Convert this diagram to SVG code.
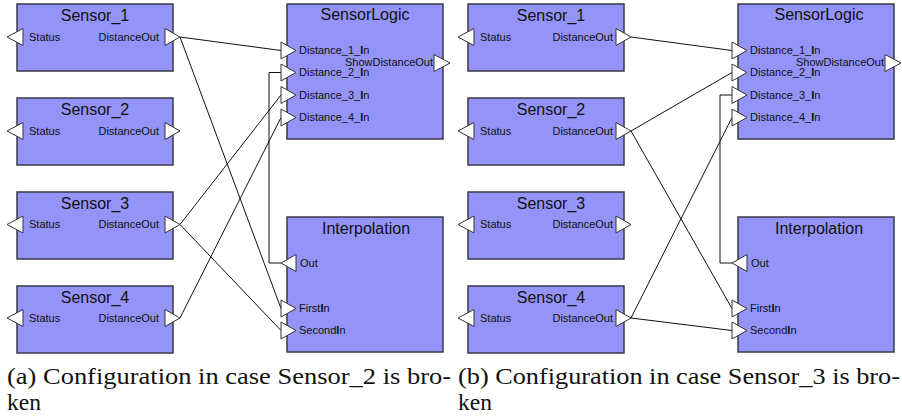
<svg xmlns="http://www.w3.org/2000/svg" width="902" height="418" viewBox="0 0 902 418">
<style>
.box{fill:#9494f8;stroke:#3a3a48;stroke-width:1.5}
.port{fill:#fff;stroke:#333;stroke-width:1}
.title{font-family:"Liberation Sans",Arial,sans-serif;font-size:16px;text-anchor:middle;fill:#111}
.lbl{font-family:"Liberation Sans",Arial,sans-serif;font-size:11px;fill:#111}
.end{text-anchor:end}
.wire{fill:none;stroke:#111;stroke-width:1}
.cap{font-family:"Liberation Serif","Times New Roman",serif;font-size:23.5px;fill:#111}
</style>
<rect width="902" height="418" fill="#fff"/>

<!-- Panel (a) -->
<g id="a-connectors">
<path class="wire" d="M180,37 L281,50.5"/>
<path class="wire" d="M180,37 L281,308.5"/>
<path class="wire" d="M180,224.5 L281,95"/>
<path class="wire" d="M180,318 L281,117.5"/>
<path class="wire" d="M180,224.5 L281,330.5"/>
<path class="wire" d="M281,263 H269 V72.5 H281"/>
</g>
<g id="a-sensor1">
<rect class="box" x="17" y="4" width="156" height="67"/>
<text class="title" x="95" y="20.5">Sensor_1</text>
<polygon class="port" points="7,37 23,28.5 23,45.5"/>
<text class="lbl" x="29" y="40.5">Status</text>
<polygon class="port" points="165,28.5 165,45.5 180,37"/>
<text class="lbl end" x="159" y="40.5">DistanceOut</text>
</g>
<g id="a-sensor2">
<rect class="box" x="17" y="98" width="156" height="67"/>
<text class="title" x="95" y="114.5">Sensor_2</text>
<polygon class="port" points="7,131 23,122.5 23,139.5"/>
<text class="lbl" x="29" y="134.5">Status</text>
<polygon class="port" points="165,122.5 165,139.5 180,131"/>
<text class="lbl end" x="159" y="134.5">DistanceOut</text>
</g>
<g id="a-sensor3">
<rect class="box" x="17" y="192" width="156" height="67"/>
<text class="title" x="95" y="208.5">Sensor_3</text>
<polygon class="port" points="7,224.5 23,216 23,233"/>
<text class="lbl" x="29" y="228">Status</text>
<polygon class="port" points="165,216 165,233 180,224.5"/>
<text class="lbl end" x="159" y="228">DistanceOut</text>
</g>
<g id="a-sensor4">
<rect class="box" x="17" y="286" width="156" height="67"/>
<text class="title" x="95" y="302.5">Sensor_4</text>
<polygon class="port" points="7,318 23,309.5 23,326.5"/>
<text class="lbl" x="29" y="321.5">Status</text>
<polygon class="port" points="165,309.5 165,326.5 180,318"/>
<text class="lbl end" x="159" y="321.5">DistanceOut</text>
</g>
<g id="a-sensorlogic">
<rect class="box" x="287" y="4" width="156" height="135"/>
<text class="title" x="365" y="20">SensorLogic</text>
<polygon class="port" points="281,42 281,59 296,50.5"/>
<text class="lbl" x="299" y="54">Distance_1_<tspan font-weight="bold">I</tspan>n</text>
<polygon class="port" points="281,64 281,81 296,72.5"/>
<text class="lbl" x="299" y="76">Distance_2_<tspan font-weight="bold">I</tspan>n</text>
<polygon class="port" points="281,86.5 281,103.5 296,95"/>
<text class="lbl" x="299" y="98.5">Distance_3_<tspan font-weight="bold">I</tspan>n</text>
<polygon class="port" points="281,109 281,126 296,117.5"/>
<text class="lbl" x="299" y="121">Distance_4_<tspan font-weight="bold">I</tspan>n</text>
<polygon class="port" points="434,54.5 434,71.5 450,63"/>
<text class="lbl end" x="433" y="66">ShowDistanceOut</text>
</g>
<g id="a-interpolation">
<rect class="box" x="287" y="217" width="156" height="135"/>
<text class="title" x="366" y="233.5">Interpolation</text>
<polygon class="port" points="281,263 296,254.5 296,271.5"/>
<text class="lbl" x="300" y="266.5">Out</text>
<polygon class="port" points="281,300 281,317 296,308.5"/>
<text class="lbl" x="299" y="312">First<tspan font-weight="bold">I</tspan>n</text>
<polygon class="port" points="281,322 281,339 296,330.5"/>
<text class="lbl" x="299" y="334">Second<tspan font-weight="bold">I</tspan>n</text>
</g>

<!-- Panel (b) -->
<g id="b-connectors">
<path class="wire" d="M631,37 L732,50.5"/>
<path class="wire" d="M631,131 L732,72.5"/>
<path class="wire" d="M631,131 L732,308.5"/>
<path class="wire" d="M631,318 L732,117.5"/>
<path class="wire" d="M631,318 L732,330.5"/>
<path class="wire" d="M732,263 H720 V95 H732"/>
</g>
<g id="b-sensor1">
<rect class="box" x="468" y="4" width="156" height="67"/>
<text class="title" x="551" y="20.5">Sensor_1</text>
<polygon class="port" points="458,37 474,28.5 474,45.5"/>
<text class="lbl" x="480" y="40.5">Status</text>
<polygon class="port" points="616,28.5 616,45.5 631,37"/>
<text class="lbl end" x="613" y="40.5">DistanceOut</text>
</g>
<g id="b-sensor2">
<rect class="box" x="468" y="98" width="156" height="67"/>
<text class="title" x="551" y="114.5">Sensor_2</text>
<polygon class="port" points="458,131 474,122.5 474,139.5"/>
<text class="lbl" x="480" y="134.5">Status</text>
<polygon class="port" points="616,122.5 616,139.5 631,131"/>
<text class="lbl end" x="613" y="134.5">DistanceOut</text>
</g>
<g id="b-sensor3">
<rect class="box" x="468" y="192" width="156" height="67"/>
<text class="title" x="551" y="208.5">Sensor_3</text>
<polygon class="port" points="458,224.5 474,216 474,233"/>
<text class="lbl" x="480" y="228">Status</text>
<polygon class="port" points="616,216 616,233 631,224.5"/>
<text class="lbl end" x="613" y="228">DistanceOut</text>
</g>
<g id="b-sensor4">
<rect class="box" x="468" y="286" width="156" height="67"/>
<text class="title" x="551" y="302.5">Sensor_4</text>
<polygon class="port" points="458,318 474,309.5 474,326.5"/>
<text class="lbl" x="480" y="321.5">Status</text>
<polygon class="port" points="616,309.5 616,326.5 631,318"/>
<text class="lbl end" x="613" y="321.5">DistanceOut</text>
</g>
<g id="b-sensorlogic">
<rect class="box" x="738" y="4" width="156" height="135"/>
<text class="title" x="819" y="20">SensorLogic</text>
<polygon class="port" points="732,42 732,59 747,50.5"/>
<text class="lbl" x="750" y="54">Distance_1_<tspan font-weight="bold">I</tspan>n</text>
<polygon class="port" points="732,64 732,81 747,72.5"/>
<text class="lbl" x="750" y="76">Distance_2_<tspan font-weight="bold">I</tspan>n</text>
<polygon class="port" points="732,86.5 732,103.5 747,95"/>
<text class="lbl" x="750" y="98.5">Distance_3_<tspan font-weight="bold">I</tspan>n</text>
<polygon class="port" points="732,109 732,126 747,117.5"/>
<text class="lbl" x="750" y="121">Distance_4_<tspan font-weight="bold">I</tspan>n</text>
<polygon class="port" points="885,54.5 885,71.5 901,63"/>
<text class="lbl end" x="884" y="66">ShowDistanceOut</text>
</g>
<g id="b-interpolation">
<rect class="box" x="738" y="217" width="156" height="135"/>
<text class="title" x="819" y="233.5">Interpolation</text>
<polygon class="port" points="732,263 747,254.5 747,271.5"/>
<text class="lbl" x="751" y="266.5">Out</text>
<polygon class="port" points="732,300 732,317 747,308.5"/>
<text class="lbl" x="750" y="312">First<tspan font-weight="bold">I</tspan>n</text>
<polygon class="port" points="732,322 732,339 747,330.5"/>
<text class="lbl" x="750" y="334">Second<tspan font-weight="bold">I</tspan>n</text>
</g>

<g id="captions">
<text class="cap" x="7" y="384" textLength="444" lengthAdjust="spacingAndGlyphs">(a) Configuration in case Sensor_2 is bro-</text>
<text class="cap" x="7" y="410">ken</text>
<text class="cap" x="458" y="384" textLength="442" lengthAdjust="spacingAndGlyphs">(b) Configuration in case Sensor_3 is bro-</text>
<text class="cap" x="458" y="410">ken</text>
</g>
</svg>
